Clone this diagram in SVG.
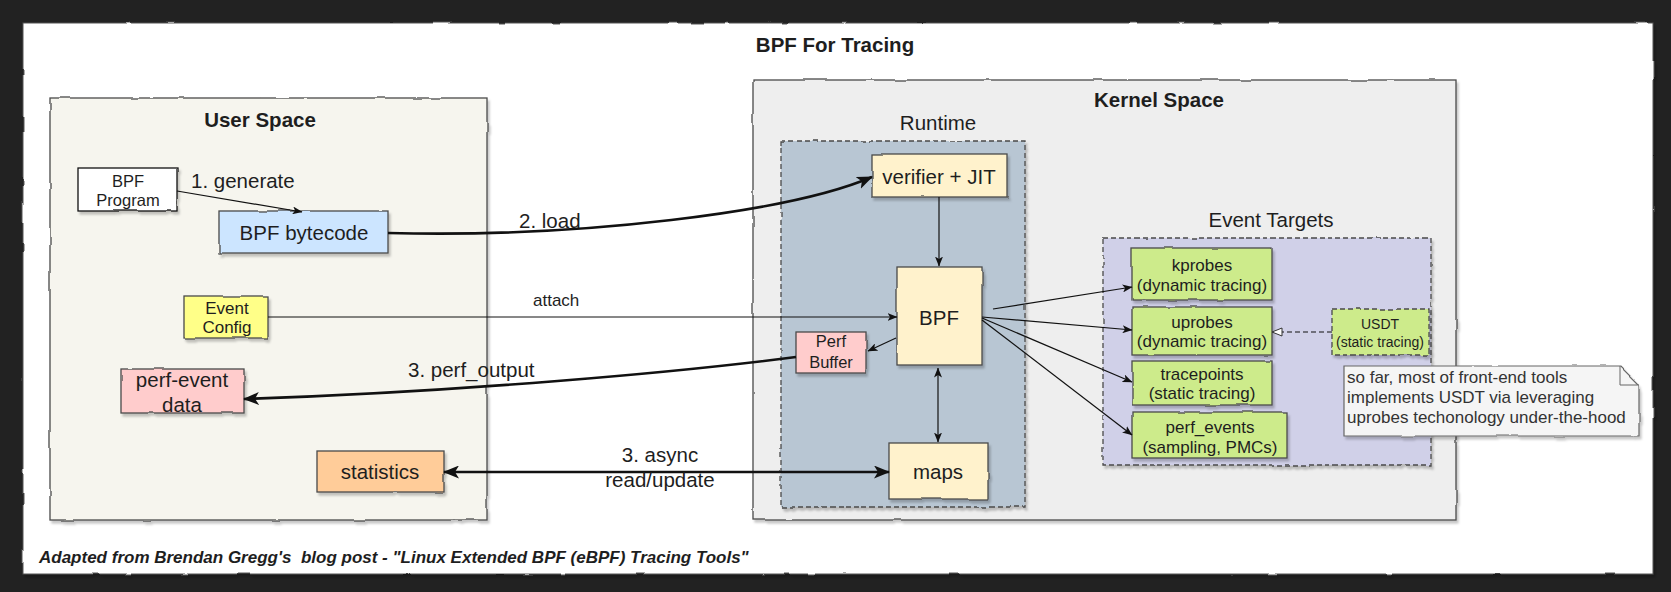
<svg xmlns="http://www.w3.org/2000/svg" width="1671" height="592" viewBox="0 0 1671 592">
<defs>
<style>
.t{font-family:"Liberation Sans",Arial,Helvetica,sans-serif;fill:#1e1e1e}
.m{text-anchor:middle}
.b{font-weight:bold}
.f20{font-size:20.5px}
.f17{font-size:17px}
.f16{font-size:16.5px}
.f14{font-size:14px}
.box{stroke:#4a4a4a;stroke-width:1.3}
.dash{stroke-dasharray:5 3}
.c{fill:none;stroke:#111}
.thin{stroke-width:1.2}
.thick{stroke-width:2.6}
</style>
<filter id="sk" filterUnits="userSpaceOnUse" x="0" y="0" width="1671" height="592">
<feTurbulence type="fractalNoise" baseFrequency="0.035" numOctaves="2" seed="4" result="n"/>
<feDisplacementMap in="SourceGraphic" in2="n" scale="2.5" xChannelSelector="R" yChannelSelector="G" result="d"/>
<feDropShadow in="d" dx="2" dy="3" stdDeviation="1.2" flood-color="#000" flood-opacity="0.22"/>
</filter>
<marker id="a1" viewBox="0 0 10 8" refX="9.5" refY="4" markerWidth="10" markerHeight="8" markerUnits="userSpaceOnUse" orient="auto-start-reverse">
<path d="M0,0 L10,4 L0,8 L2.5,4 Z" fill="#111"/>
</marker>
<marker id="a2" viewBox="0 0 16 13" refX="15" refY="6.5" markerWidth="16" markerHeight="13" markerUnits="userSpaceOnUse" orient="auto-start-reverse">
<path d="M0,0 L16,6.5 L0,13 L4,6.5 Z" fill="#111"/>
</marker>
<marker id="a3" viewBox="0 0 12 10" refX="11" refY="5" markerWidth="12" markerHeight="10" markerUnits="userSpaceOnUse" orient="auto">
<path d="M1,1 L11,5 L1,9 Z" fill="#fff" stroke="#333" stroke-width="1"/>
</marker>
</defs>

<rect x="0" y="0" width="1671" height="592" fill="#222"/>
<rect x="23" y="23" width="1630" height="551" fill="#fff" stroke="#555" stroke-width="1" filter="url(#sk)"/>

<text class="t b f20 m" x="835" y="52">BPF For Tracing</text>

<g id="user-space">
<rect class="box" x="50" y="98" width="437" height="422" fill="#f6f5ee" filter="url(#sk)"/>
<text class="t b f20 m" x="260" y="127">User Space</text>
</g>

<g id="kernel-space">
<rect class="box" x="753" y="80" width="703" height="440" fill="#eeeeee" filter="url(#sk)"/>
<text class="t b f20 m" x="1159" y="107">Kernel Space</text>
</g>

<g id="runtime">
<rect class="box dash" x="781" y="141" width="244" height="366" fill="#b8c6d3" filter="url(#sk)"/>
<text class="t f20 m" x="938" y="130">Runtime</text>
</g>

<g id="event-targets">
<rect class="box dash" x="1103" y="238" width="328" height="227" fill="#d0d0e8" filter="url(#sk)"/>
<text class="t f20 m" x="1271" y="227">Event Targets</text>
</g>

<g id="bpf-program">
<rect x="78" y="168" width="99" height="43" fill="#fff" stroke="#111" stroke-width="1.3" filter="url(#sk)"/>
<text class="t f16 m" x="128" y="187">BPF</text>
<text class="t f16 m" x="128" y="206">Program</text>
</g>

<g id="bpf-bytecode">
<rect class="box" x="219" y="211" width="169" height="42" fill="#cce5ff" filter="url(#sk)"/>
<text class="t f20 m" x="304" y="240">BPF bytecode</text>
</g>

<g id="event-config">
<rect class="box" x="184" y="296" width="84" height="42" fill="#ffff88" filter="url(#sk)"/>
<text class="t f17 m" x="227" y="314">Event</text>
<text class="t f17 m" x="227" y="333">Config</text>
</g>

<g id="perf-event-data">
<rect class="box" x="121" y="369" width="123" height="44" fill="#ffcccc" filter="url(#sk)"/>
<text class="t f20 m" x="182" y="387">perf-event</text>
<text class="t f20 m" x="182" y="412">data</text>
</g>

<g id="statistics">
<rect class="box" x="317" y="451" width="127" height="41" fill="#ffcc99" filter="url(#sk)"/>
<text class="t f20 m" x="380" y="479">statistics</text>
</g>

<g id="verifier-jit">
<rect class="box" x="872" y="154" width="135" height="43" fill="#fff2cc" filter="url(#sk)"/>
<text class="t f20 m" x="939" y="184">verifier + JIT</text>
</g>

<g id="bpf">
<rect class="box" x="897" y="267" width="85" height="98" fill="#fff2cc" filter="url(#sk)"/>
<text class="t f20 m" x="939" y="325">BPF</text>
</g>

<g id="perf-buffer">
<rect class="box" x="796" y="332" width="70" height="41" fill="#ffcccc" filter="url(#sk)"/>
<text class="t f16 m" x="831" y="347">Perf</text>
<text class="t f16 m" x="831" y="368">Buffer</text>
</g>

<g id="maps">
<rect class="box" x="889" y="443" width="99" height="56" fill="#fff2cc" filter="url(#sk)"/>
<text class="t f20 m" x="938" y="479">maps</text>
</g>

<g id="kprobes">
<rect class="box" x="1132" y="248" width="140" height="52" fill="#cdeb8b" filter="url(#sk)"/>
<text class="t f17 m" x="1202" y="271">kprobes</text>
<text class="t f17 m" x="1202" y="291">(dynamic tracing)</text>
</g>

<g id="uprobes">
<rect class="box" x="1132" y="307" width="140" height="48" fill="#cdeb8b" filter="url(#sk)"/>
<text class="t f17 m" x="1202" y="328">uprobes</text>
<text class="t f17 m" x="1202" y="347">(dynamic tracing)</text>
</g>

<g id="tracepoints">
<rect class="box" x="1132" y="361" width="140" height="44" fill="#cdeb8b" filter="url(#sk)"/>
<text class="t f17 m" x="1202" y="380">tracepoints</text>
<text class="t f17 m" x="1202" y="399">(static tracing)</text>
</g>

<g id="perf-events">
<rect class="box" x="1132" y="412" width="155" height="46" fill="#cdeb8b" filter="url(#sk)"/>
<text class="t f17 m" x="1210" y="433">perf_events</text>
<text class="t f17 m" x="1210" y="453">(sampling, PMCs)</text>
</g>

<g id="usdt">
<rect class="box dash" x="1332" y="309" width="97" height="46" fill="#cdeb8b" filter="url(#sk)"/>
<text class="t f14 m" x="1380" y="329">USDT</text>
<text class="t f14 m" x="1380" y="347">(static tracing)</text>
</g>

<g id="note">
<path d="M1344,366 L1620,366 L1639,385 L1639,436 L1344,436 Z" fill="#f5f5f5" stroke="#666" stroke-width="1.2" filter="url(#sk)"/>
<path d="M1620,366 L1620,385 L1639,385" fill="none" stroke="#666" stroke-width="1"/>
<text class="t f17" x="1347" y="383" style="fill:#333">so far, most of front-end tools</text>
<text class="t f17" x="1347" y="403" style="fill:#333">implements USDT via leveraging</text>
<text class="t f17" x="1347" y="423" style="fill:#333">uprobes techonology under-the-hood</text>
</g>

<g id="connectors">
<line class="c thin" x1="177" y1="191" x2="302" y2="212" marker-end="url(#a1)"/>
<text class="t f20" x="191" y="188">1. generate</text>

<path class="c thick" d="M388,233 C580,238 790,212 872,177" marker-end="url(#a2)"/>
<text class="t f20" x="519" y="228">2. load</text>

<line class="c" stroke-width="1" x1="268" y1="317" x2="897" y2="317" marker-end="url(#a1)"/>
<text class="t f17" x="533" y="306">attach</text>

<line class="c thin" x1="896" y1="338" x2="868" y2="351" marker-end="url(#a1)"/>

<path class="c thick" d="M796,357 C680,372 460,392 244,399" marker-end="url(#a2)"/>
<text class="t f20" x="408" y="377">3. perf_output</text>

<line class="c thick" x1="444" y1="472" x2="889" y2="472" marker-start="url(#a2)" marker-end="url(#a2)"/>
<text class="t f20 m" x="660" y="462">3. async</text>
<text class="t f20 m" x="660" y="487">read/update</text>

<line class="c thin" x1="939" y1="197" x2="939" y2="266" marker-end="url(#a1)"/>
<line class="c thin" x1="938" y1="368" x2="938" y2="442" marker-start="url(#a1)" marker-end="url(#a1)"/>

<line class="c thin" x1="993" y1="309" x2="1132" y2="287" marker-end="url(#a1)"/>
<line class="c thin" x1="982" y1="317" x2="1132" y2="330" marker-end="url(#a1)"/>
<line class="c thin" x1="982" y1="318" x2="1132" y2="382" marker-end="url(#a1)"/>
<line class="c thin" x1="982" y1="320" x2="1132" y2="435" marker-end="url(#a1)"/>

<line class="c thin dash" x1="1332" y1="332" x2="1272" y2="332" marker-end="url(#a3)"/>
</g>

<text class="t b f17" x="39" y="563" font-style="italic" xml:space="preserve">Adapted from Brendan Gregg's  blog post - "Linux Extended BPF (eBPF) Tracing Tools"</text>
</svg>
